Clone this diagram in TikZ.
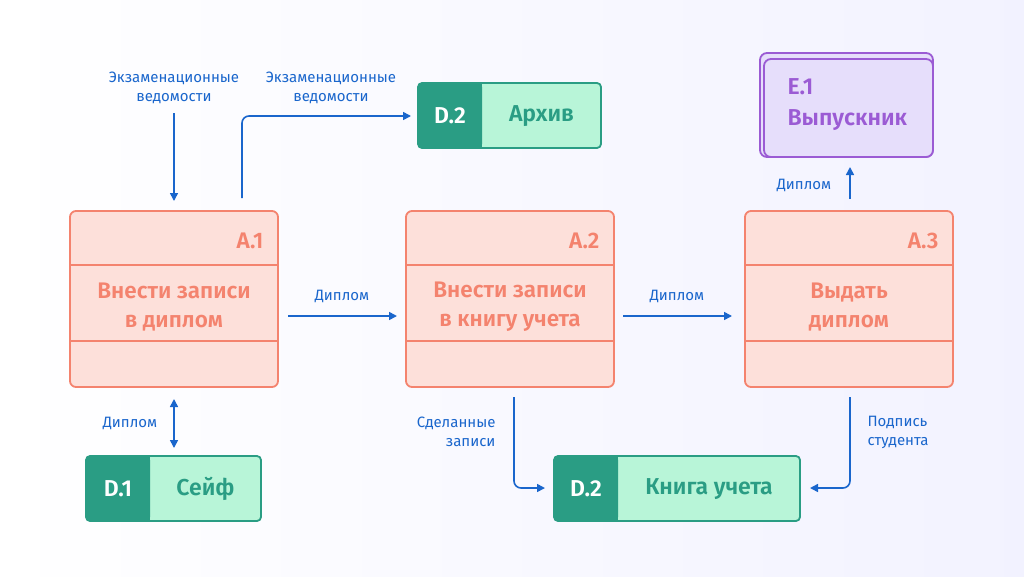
\documentclass[tikz,border=0pt]{standalone}
\usepackage{fontspec}
\setmainfont{Fira Sans}[BoldFont={Fira Sans SemiBold}]
\usetikzlibrary{arrows.meta}
\definecolor{sal}{HTML}{F4836E}
\definecolor{pinkf}{HTML}{FDE0DA}
\definecolor{teal}{HTML}{2A9D84}
\definecolor{mint}{HTML}{B8F5D8}
\definecolor{purp}{HTML}{9B5BD4}
\definecolor{lav}{HTML}{E6DEFB}
\definecolor{arr}{HTML}{1A66CC}
\begin{document}
\begin{tikzpicture}[x=1pt,y=-1pt,
  proc/.style={draw=sal,fill=pinkf,line width=1.8pt,rounded corners=6pt},
  div/.style={draw=sal,line width=1.8pt},
  ptitle/.style={text=sal,font=\bfseries\fontsize{22.5}{29}\selectfont,align=center},
  pid/.style={text=sal,font=\bfseries\fontsize{22.5}{27}\selectfont,anchor=east},
  lbl/.style={text=arr,font=\fontsize{15}{19}\selectfont,align=center},
  fl/.style={draw=arr,line width=1.6pt,-{Triangle[length=8pt,width=8pt]},rounded corners=7pt},
  stxt/.style={font=\bfseries\fontsize{23}{31}\selectfont}]
\shade[left color=white,right color=blue!5] (0,0) rectangle (1024,576);
\useasboundingbox (0,0) rectangle (1024,576);
\foreach \n/\x in {a1/70,a2/406,a3/745}{
  \draw[proc] (\x,211) rectangle ++(208,176);
  \draw[div] (\x,265) -- ++(208,0);
  \draw[div] (\x,341) -- ++(208,0);
  \coordinate (\n) at (\x+104,299);
}
\node[pid] (ida1) at (267,241) {А.1};
\node[pid] (ida2) at (603,241) {А.2};
\node[pid] (ida3) at (942,241) {А.3};
\node[ptitle] (t1) at (174,307) {Внести записи\\в диплом};
\node[ptitle] (t2) at (510,307) {Внести записи\\в книгу учета};
\node[ptitle] (t3) at (849,307) {Выдать\\диплом};
\newcommand{\store}[5]{%
  \fill[mint,rounded corners=4pt] (#1,#2) rectangle (#3,#2+65);
  \fill[teal,rounded corners=4pt] (#1,#2) rectangle (#1+64,#2+65);
  \fill[teal] (#1+50,#2) rectangle (#1+64,#2+65);
  \draw[teal,line width=1.8pt,rounded corners=4pt] (#1,#2) rectangle (#3,#2+65);
  \node[stxt,text=white] at (#1+32,#2+33) {#4};
  \node[stxt,text=teal] at ({(#1+64+#3)/2},#2+33) {#5};}
\store{418}{83}{601}{D.2}{Архив}
\store{86}{456}{261}{D.1}{Сейф}
\store{554}{456}{800}{D.2}{Книга учета}
\fill[lav,draw=purp,line width=1.8pt,rounded corners=7pt] (760,53) rectangle (933,157);
\fill[lav,draw=purp,line width=1.8pt,rounded corners=7pt] (764,59) rectangle (933,157);
\node[stxt,text=purp,align=left,anchor=west] (e1) at (784,105) {Е.1\\Выпускник};
\coordinate (s1) at (174,113); \coordinate (e1a) at (174,201);
\draw[fl] (s1) -- (e1a);
\node[lbl] at (174,88) {Экзаменационные\\ведомости};
\coordinate (s2) at (242,198); \coordinate (e2) at (411,116);
\draw[fl] (s2) |- (e2);
\node[lbl] at (331,88) {Экзаменационные\\ведомости};
\coordinate (s3) at (288,316); \coordinate (e3) at (397,316);
\draw[fl] (s3) -- (e3);
\node[lbl] at (342,296) {Диплом};
\coordinate (s4) at (623,316); \coordinate (e4) at (732,316);
\draw[fl] (s4) -- (e4);
\node[lbl] at (677,296) {Диплом};
\coordinate (s5) at (850,199); \coordinate (e5) at (850,167);
\draw[fl] (s5) -- (e5);
\node[lbl] at (804,185) {Диплом};
\coordinate (s6) at (174,399); \coordinate (e6) at (174,448);
\draw[fl,{Triangle[length=8pt,width=8pt]}-{Triangle[length=8pt,width=8pt]}] (s6) -- (e6);
\node[lbl] at (130,423) {Диплом};
\coordinate (s7) at (514,397); \coordinate (e7) at (545,488);
\draw[fl] (s7) |- (e7);
\node[lbl,align=right,anchor=east] at (499,432) {Сделанные\\записи};
\coordinate (s8) at (850,397); \coordinate (e8) at (810,488);
\draw[fl] (s8) |- (e8);
\node[lbl,align=left,anchor=west] at (864,432) {Подпись\\студента};
\end{tikzpicture}
\end{document}
